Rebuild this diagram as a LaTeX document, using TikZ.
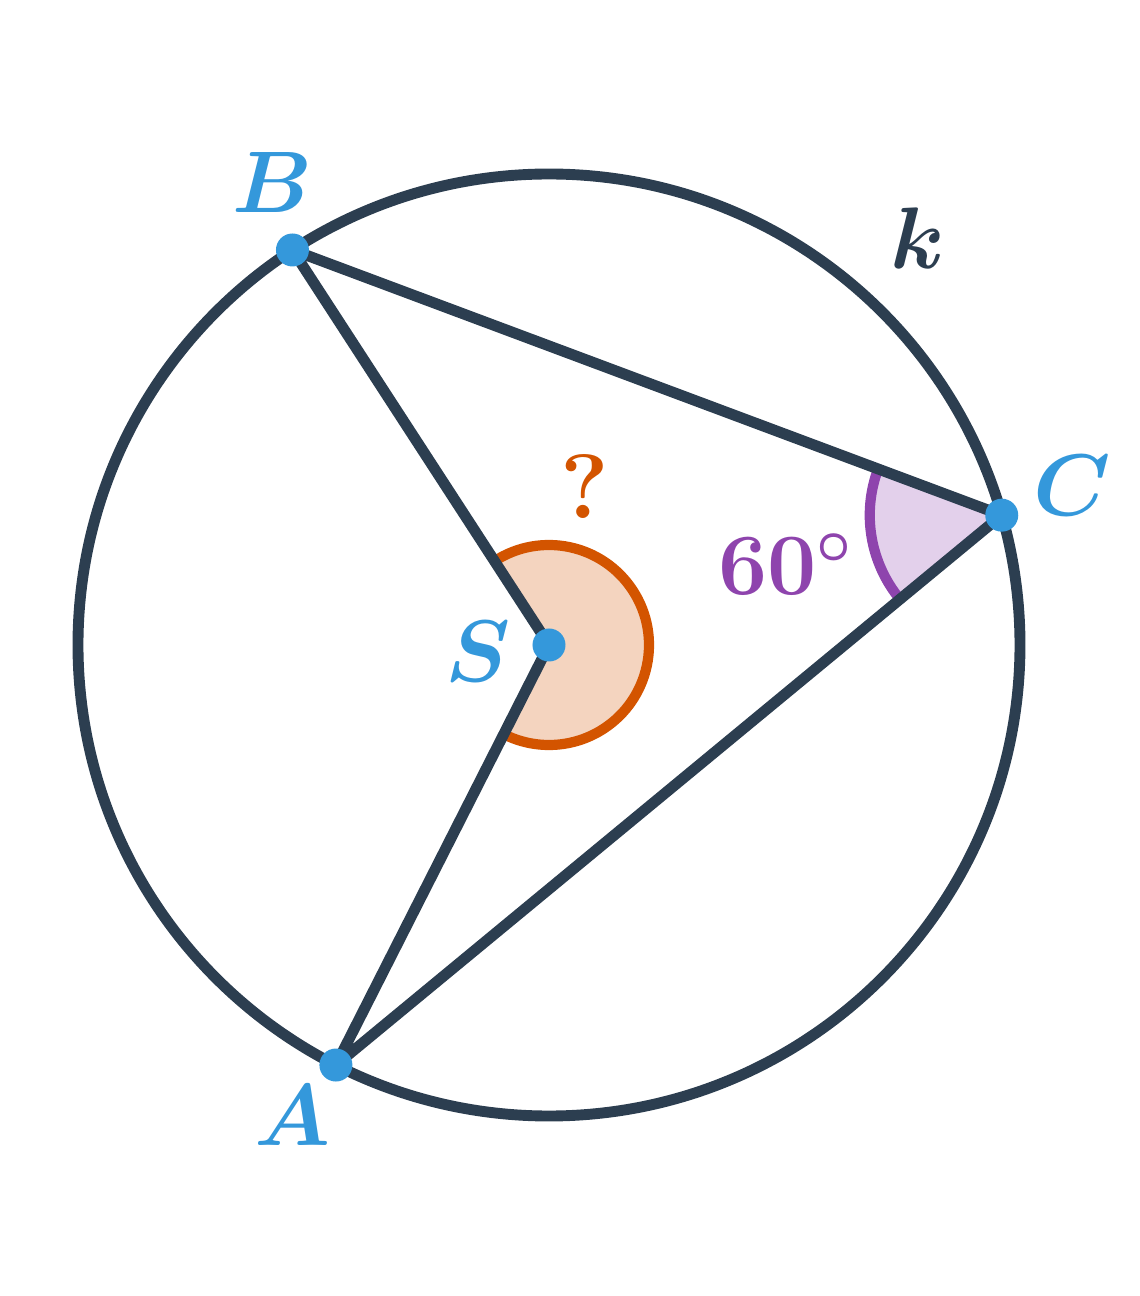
\documentclass[tikz,border=0pt]{standalone}
\usepackage{amsmath,amssymb,bm}
\usepackage{tikz}

\definecolor{dark}{HTML}{2C3E50}
\definecolor{blue}{HTML}{3498DB}
\definecolor{orng}{HTML}{D35400}
\definecolor{purp}{HTML}{8E44AD}

\begin{document}
\begin{tikzpicture}
        [line join=round,
        l/.style={draw=dark,line width=3.1pt},
        p/.style={circle,fill=blue,inner sep=0pt,minimum size=0.33cm},
        t/.style={font=\fontsize{26}{30}\selectfont}]
        \useasboundingbox (-5.49,-6.51) rectangle (5.90,6.45);
        \coordinate (S) at (0,0);
        \coordinate (B) at (123:4.71);
        \coordinate (C) at (16:4.71);
        \coordinate (A) at (243.1:4.71);
        % angles
        \fill[orng!25] (S) -- ++(123:1) arc[start angle=123,end angle=-116.9,radius=1] -- cycle;
        \draw[orng,line width=2.9pt] (S) ++(123:1) arc[start angle=123,end angle=-116.9,radius=1];
        \fill[purp!25] (C) -- ++(159.5:1.32) arc[start angle=159.5,end angle=219.5,radius=1.32] -- cycle;
        \draw[purp,line width=2.9pt] (C) ++(159.5:1.32) arc[start angle=159.5,end angle=219.5,radius=1.32];
        % circle and triangle
        \draw[l] (S) circle (4.71);
        \draw[l] (B) -- (S) -- (A) -- (C) -- (B);
        \node[p] (s) at (S) {};
        \node[p] (b) at (B) {};
        \node[p] (c) at (C) {};
        \node[p] (a) at (A) {};
        % labels
        \node[t,blue] at (-2.77,4.62) {$\bm{B}$};
        \node[t,blue] at (5.23,1.59) {$\bm{C}$};
        \node[t,blue] at (-2.56,-4.70) {$\bm{A}$};
        \node[t,blue] at (-0.71,-0.07) {$\bm{S}$};
        \node[t,dark] at (3.69,4.07) {$\bm{k}$};
        \node[t,orng] at (0.36,1.58) {\textbf{?}};
        \node[t,purp] at (2.37,0.81) {$\bm{60^\circ}$};
\end{tikzpicture}
\end{document}
